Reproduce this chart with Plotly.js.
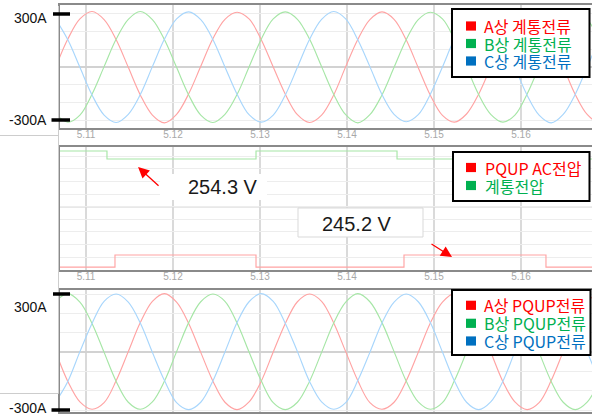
<!DOCTYPE html>
<html><head><meta charset="utf-8">
<script src="https://cdn.plot.ly/plotly-3.0.1.min.js"></script>
<style>html,body{margin:0;padding:0;overflow:hidden;background:#fff}#chart{width:600px;height:415px}</style>
</head><body><div id="chart"></div>
<script>
// ---- sample times (s) ----
const t = [5.10652,5.10791,5.10930,5.11069,5.11208,5.11347,5.11486,5.11624,5.11763,5.11902,
5.12041,5.12180,5.12319,5.12458,5.12597,5.12736,5.12874,5.13013,5.13152,5.13291,
5.13430,5.13569,5.13708,5.13847,5.13985,5.14124,5.14263,5.14402,5.14541,5.14680,
5.14819,5.14958,5.15097,5.15235,5.15374,5.15513,5.15652,5.15791,5.15930,5.16069,
5.16208,5.16347,5.16485,5.16624,5.16763,5.16902,5.17041,5.17180,5.17319,5.17458];

// ---- grid currents (A) ----
const gridA = [0,158,272,314,268,154,-2,-158,-272,-316,-268,-152, 4,160,270,310,272,156,0,-154,-270,-314,-272,-158, 2,156,268,312,270,154,-4,-160,-274,-312,-266,-154, 0,158,272,314,268,152,2,-156,-270,-316,-270,-156, 0,156];
const gridB = [-268,-312,-272,-154,2,158,270,314,268,154,-2,-158, -272,-314,-268,-156,0,156,272,312,270,158,2,-154, -270,-316,-270,-158,-2,154,268,310,272,156,0,-156, -268,-312,-272,-154,2,158,270,314,268,152,-2,-158, -272,-314];
const gridC = [270,154,-2,-158,-272,-314,-268,-156,2,158,272,312, 268,156,0,-154,-270,-312,-272,-158,-2,156,270,314, 272,154,2,-156,-268,-310,-270,-154,0,158,268,312, 270,156,-2,-158,-272,-316,-268,-154,2,156,272,314, 268,154];

// ---- PQUP currents (A) ----
const pqupA = [0,-152,-258,-296,-262,-148,2,152,262,302,258,148, -2,-150,-260,-298,-258,-152,0,148,260,300,262,150, 2,-148,-262,-296,-260,-150,-2,150,258,302,260,152, 0,-152,-258,-298,-262,-148,2,152,262,300,258,150, -2,-150];
const pqupB = [262,302,258,148,-2,-152,-260,-296,-258,-150,2,152, 260,300,262,150,0,-148,-262,-298,-260,-152,-2,150, 258,302,260,152,2,-150,-258,-296,-262,-148,0,148, 262,300,258,150,-2,-152,-260,-298,-258,-150,2,152, 260,300];
const pqupC = [-258,-152,2,148,262,300,258,150,-2,-148,-262,-298, -260,-150,0,152,260,302,262,148,2,-152,-258,-296, -262,-148,-2,150,258,300,260,152,0,-150,-260,-298, -258,-152,2,148,262,302,258,150,-2,-148,-262,-296, -260,-150];

// ---- voltages (V), step changes ----
const acT = [5.1065, 5.11333, 5.12954, 5.14655, 5.16287, 5.1746];
const acV = [244.06, 245.2, 244.06, 245.2, 244.06, 244.06];
const gvT = [5.1065, 5.11241, 5.12954, 5.14575, 5.1746];
const gvV = [255.06, 254.3, 255.06, 254.3, 254.3];

// ---- names / labels ----
const topNames = ['A상 계통전류', 'B상 계통전류', 'C상 계통전류'];
const midNames = ['PQUP AC전압', '계통전압'];
const botNames = ['A상 PQUP전류', 'B상 PQUP전류', 'C상 PQUP전류'];
const ampTicks = [300, -300];
const ampTickText = ['300A', '-300A'];
const voltLabels = ['254.3 V', '245.2 V'];
const voltPoints = [[5.11598, 253.54], [5.15207, 245.01]];
const xRange = [5.10701, 5.16908];

// ---- style ----
const lineCol = ['#ffa3a3', '#a6e6a6', '#a8d6fc'];
const solidCol = ['#ff0000', '#00b050', '#0070c0'];
const ML = 60, PW = 540, PH = 412;
const PX = p => (p - ML) / PW;
const PY = p => 1 - p / PH;

function tr(x, y, xa, ya, col, shape) {
  return {x: x, y: y, xaxis: xa, yaxis: ya, mode: 'lines', showlegend: false, hoverinfo: 'skip',
    line: {color: col, width: 1.15, shape: shape, smoothing: 1}};
}
const data = [
  tr(t, gridA, 'x', 'y', lineCol[0], 'spline'),
  tr(t, gridB, 'x', 'y', lineCol[1], 'spline'),
  tr(t, gridC, 'x', 'y', lineCol[2], 'spline'),
  tr(acT, acV, 'x2', 'y2', lineCol[0], 'hv'),
  tr(gvT, gvV, 'x2', 'y2', lineCol[1], 'hv'),
  tr(t, pqupA, 'x3', 'y3', lineCol[0], 'spline'),
  tr(t, pqupB, 'x3', 'y3', lineCol[1], 'spline'),
  tr(t, pqupC, 'x3', 'y3', lineCol[2], 'spline')
];

function xax(anchor, labels) {
  return {anchor: anchor, domain: [0, 1], range: xRange, tick0: 5.11, dtick: 0.01, tickformat: '.2f',
    ticks: '', showticklabels: labels, ticklabelstandoff: -4,
    showgrid: true, gridcolor: '#dadada', gridwidth: 1.5, zeroline: false,
    showline: true, mirror: true, linecolor: '#8a8a8a', linewidth: 2,
    tickfont: {family: 'Liberation Sans', size: 10, color: '#a8a8a8'}};
}
function yax(anchor, dom, range, tick0, dtick, zl) {
  return {anchor: anchor, domain: dom, range: range, tick0: tick0, dtick: dtick, showticklabels: false,
    ticks: '', showgrid: true, gridcolor: '#ededed', gridwidth: 1,
    zeroline: zl, zerolinecolor: '#d2d2d2', zerolinewidth: 1.5,
    showline: true, mirror: true, linecolor: '#8a8a8a', linewidth: 2};
}

const shapes = [];
const annotations = [];
const gray = '#cdcdcd';
// stray frame lines in the left margin
shapes.push({type: 'line', xref: 'paper', yref: 'paper', x0: PX(58.5), x1: PX(58.5), y0: PY(6), y1: PY(393.5), line: {color: gray, width: 1}});
shapes.push({type: 'line', xref: 'paper', yref: 'paper', x0: PX(0), x1: PX(58.5), y0: PY(135.5), y1: PY(135.5), line: {color: gray, width: 1}});
shapes.push({type: 'line', xref: 'paper', yref: 'paper', x0: PX(0), x1: PX(58.5), y0: PY(393.5), y1: PY(393.5), line: {color: gray, width: 1}});

// amp marks + labels
const ampPanels = [{ya: 'y', shifts: [-4.5, 0]}, {ya: 'y3', shifts: [-12.5, 2]}];
ampPanels.forEach(p => {
  ampTicks.forEach((v, i) => {
    shapes.push({type: 'line', xref: 'paper', yref: p.ya, x0: PX(i === 0 ? 53 : 51.5), x1: PX(70), y0: v, y1: v,
      line: {color: '#000', width: 3.5}});
    annotations.push({xref: 'paper', yref: p.ya, x: PX(47), y: v, xanchor: 'right', yanchor: 'middle',
      yshift: p.shifts[i], text: ampTickText[i], showarrow: false, borderpad: 0, borderwidth: 0,
      font: {family: 'Liberation Sans', size: 14, color: '#111'}});
  });
});

// middle panel centre line
shapes.push({type: 'line', xref: 'x2 domain', yref: 'y2', x0: 0, x1: 1, y0: 249.78, y1: 249.78, layer: 'below',
  line: {color: '#d2d2d2', width: 1.5}});

// voltage label boxes
shapes.push({type: 'rect', xref: 'paper', yref: 'paper', x0: PX(160), x1: PX(267), y0: PY(200), y1: PY(174),
  fillcolor: '#fff', line: {width: 0}, layer: 'above'});
shapes.push({type: 'rect', xref: 'paper', yref: 'paper', x0: PX(298), x1: PX(423), y0: PY(237), y1: PY(208),
  fillcolor: '#fff', line: {width: 1, color: '#d9d9d9'}, layer: 'above'});
annotations.push({xref: 'paper', yref: 'paper', x: PX(222.5), y: PY(186.5), text: voltLabels[0], showarrow: false,
  xanchor: 'center', yanchor: 'middle', font: {family: 'Liberation Sans', size: 20, color: '#1a1a1a'}});
annotations.push({xref: 'paper', yref: 'paper', x: PX(356.5), y: PY(224), text: voltLabels[1], showarrow: false,
  xanchor: 'center', yanchor: 'middle', font: {family: 'Liberation Sans', size: 20, color: '#1a1a1a'}});
// red arrows
const arrowOff = [[22, 20], [-22, -14]];
voltPoints.forEach((pt, i) => {
  annotations.push({xref: 'x2', yref: 'y2', x: pt[0], y: pt[1], ax: arrowOff[i][0], ay: arrowOff[i][1], text: '',
    showarrow: true, arrowhead: 2, arrowsize: 1.7, arrowwidth: 1.3, arrowcolor: '#ff0000', standoff: 0});
});

// legends
function legend(names, colors, box, rows, textX) {
  shapes.push({type: 'rect', xref: 'paper', yref: 'paper', x0: PX(box[0]), x1: PX(box[1]), y0: PY(box[3]), y1: PY(box[2]),
    fillcolor: '#fff', line: {color: '#000', width: 2}, layer: 'above'});
  names.forEach((n, i) => {
    shapes.push({type: 'rect', xref: 'paper', yref: 'paper', x0: PX(466), x1: PX(476), y0: PY(rows[i] + 4.6), y1: PY(rows[i] - 4.6),
      fillcolor: colors[i], line: {width: 0}, layer: 'above'});
    annotations.push({xref: 'paper', yref: 'paper', x: PX(textX), y: PY(rows[i]), xanchor: 'left', yanchor: 'middle',
      text: n, showarrow: false, borderpad: 0, borderwidth: 0,
      font: {family: 'Noto Sans CJK KR', size: 16, color: colors[i]}});
  });
}
legend(topNames, solidCol, [452, 589.5, 9, 77], [26, 43.5, 61], 483.5);
legend(midNames, [solidCol[0], solidCol[1]], [453, 589.5, 152, 201], [167.5, 185.5], 485);
legend(botNames, solidCol, [452, 590.5, 290, 355], [305.3, 323.3, 341], 483.5);

const layout = {
  width: 600, height: 415,
  margin: {l: ML, r: 0, t: 0, b: 3},
  paper_bgcolor: '#fff', plot_bgcolor: '#fff',
  font: {family: 'Liberation Sans'},
  showlegend: false,
  xaxis: xax('y', true), xaxis2: xax('y2', true), xaxis3: xax('y3', false),
  yaxis: yax('x', [PY(128), PY(5)], [-345.3, 350.9], 0, 100, true),
  yaxis2: yax('x2', [PY(270), PY(147)], [243.78, 255.44], 249.78, 1.194, false),
  yaxis3: yax('x3', [PY(412), PY(290)], [-310.3, 320.7], 0, 100, true),
  shapes: shapes,
  annotations: annotations
};
Plotly.newPlot('chart', data, layout, {staticPlot: true, displayModeBar: false});
</script></body></html>
